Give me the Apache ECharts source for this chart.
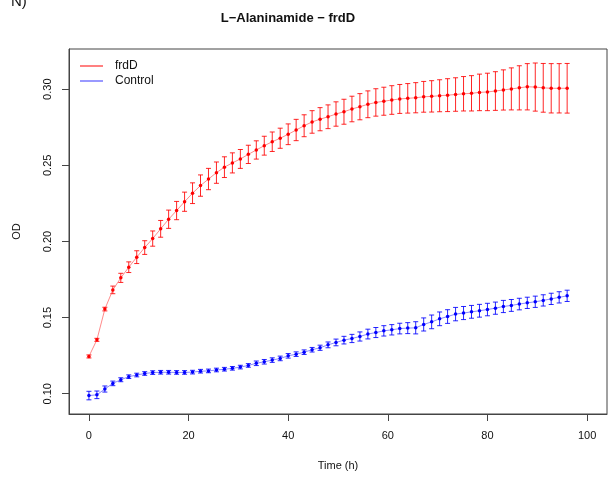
<!DOCTYPE html>
<html><head><meta charset="utf-8">
<script src="https://cdn.jsdelivr.net/npm/echarts@6/dist/echarts.min.js"></script>
<style>html,body{margin:0;padding:0;background:#fff}#c{width:612px;height:482px}</style>
</head><body><div id="c"></div>
<script>
const times = [0,1.6,3.2,4.8,6.4,8,9.6,11.2,12.8,14.4,16,17.6,19.2,20.8,22.4,24,25.6,27.2,28.8,30.4,32,33.6,35.2,36.8,38.4,40,41.6,43.2,44.8,46.4,48,49.6,51.2,52.8,54.4,56,57.6,59.2,60.8,62.4,64,65.6,67.2,68.8,70.4,72,73.6,75.2,76.8,78.4,80,81.6,83.2,84.8,86.4,88,89.6,91.2,92.8,94.4,96];
const frdD = [0.1245,0.1354,0.1556,0.1682,0.1761,0.1831,0.1897,0.1960,0.2019,0.2083,0.2146,0.2203,0.2261,0.2317,0.2367,0.2410,0.2452,0.2488,0.2516,0.2542,0.2572,0.2601,0.2629,0.2655,0.2678,0.2704,0.2732,0.2760,0.2785,0.2803,0.2819,0.2837,0.2852,0.2870,0.2885,0.2901,0.2913,0.2921,0.2929,0.2936,0.2940,0.2944,0.2950,0.2953,0.2957,0.2961,0.2965,0.2970,0.2973,0.2979,0.2982,0.2988,0.2995,0.3002,0.3009,0.3016,0.3014,0.3009,0.3006,0.3006,0.3006];
const frdDErr = [0.001,0.001,0.0012,0.0025,0.003,0.0035,0.0042,0.0045,0.005,0.0055,0.006,0.006,0.0063,0.0068,0.007,0.007,0.007,0.0068,0.0066,0.0062,0.006,0.006,0.0062,0.0064,0.0066,0.0068,0.007,0.0072,0.0074,0.0076,0.0078,0.008,0.0082,0.0084,0.0086,0.0088,0.009,0.0092,0.0094,0.0095,0.0097,0.0099,0.0101,0.0103,0.0105,0.0108,0.011,0.0113,0.0116,0.012,0.0123,0.0127,0.0132,0.0138,0.0145,0.0152,0.0158,0.016,0.0162,0.0162,0.0163];
const control = [0.0988,0.0993,0.1031,0.1068,0.1092,0.1112,0.1123,0.1133,0.1139,0.1141,0.1141,0.1140,0.1140,0.1142,0.1148,0.1150,0.1156,0.1161,0.1167,0.1175,0.1186,0.1200,0.1210,0.1221,0.1232,0.1249,0.1260,0.1273,0.1289,0.1302,0.1321,0.1337,0.1352,0.1363,0.1376,0.1392,0.1402,0.1413,0.1420,0.1428,0.1431,0.1433,0.1455,0.1472,0.1492,0.1507,0.1523,0.1530,0.1538,0.1545,0.1553,0.1562,0.1573,0.1580,0.1589,0.1597,0.1604,0.1613,0.1623,0.1633,0.1643];
const controlErr = [0.0028,0.0025,0.002,0.0015,0.0013,0.0012,0.0012,0.0012,0.0012,0.0012,0.0012,0.0012,0.0012,0.0012,0.0012,0.0012,0.0012,0.0012,0.0012,0.0012,0.0012,0.0015,0.0015,0.0015,0.0015,0.0015,0.0015,0.0015,0.0015,0.0017,0.0019,0.0022,0.0025,0.0027,0.003,0.0032,0.0033,0.0034,0.0034,0.0035,0.0036,0.004,0.0043,0.0045,0.0045,0.0045,0.0044,0.0043,0.0042,0.0042,0.0041,0.004,0.004,0.0039,0.0038,0.0037,0.0037,0.0037,0.0037,0.0037,0.0037];
const xTicks = [0,20,40,60,80,100];
const yTicks = [0.10,0.15,0.20,0.25,0.30];
const seriesNames = ['frdD','Control'];
const titleText = 'L\u2212Alaninamide \u2212 frdD';
const panelTag = 'N)';

const FONT = '"Liberation Sans", Arial, sans-serif';
const chart = echarts.init(document.getElementById('c'), null, {renderer:'canvas'});

function lineSeries(name, vals, lineColor, dotColor){
  return {type:'line', name, data: times.map((t,i)=>[t, vals[i]]),
    symbol:'circle', symbolSize:3.5, showSymbol:true,
    itemStyle:{color:dotColor}, lineStyle:{color:lineColor, width:1},
    z:4, silent:true, animation:false};
}
function errorSeries(name, vals, errs, color){
  return {type:'custom', name,
    data: times.map((t,i)=>[t, vals[i]-errs[i], vals[i]+errs[i]]),
    encode:{x:0, y:[1,2]},
    renderItem(params, api){
      const x = api.value(0);
      const lo = api.coord([x, api.value(1)]);
      const hi = api.coord([x, api.value(2)]);
      const w = 2.5;
      const st = {stroke:color, lineWidth:1};
      return {type:'group', children:[
        {type:'line', shape:{x1:lo[0], y1:lo[1], x2:hi[0], y2:hi[1]}, style:st},
        {type:'line', shape:{x1:lo[0]-w, y1:lo[1], x2:lo[0]+w, y2:lo[1]}, style:st},
        {type:'line', shape:{x1:hi[0]-w, y1:hi[1], x2:hi[0]+w, y2:hi[1]}, style:st}
      ]};
    }, z:3, silent:true, animation:false};
}

chart.setOption({
  animation:false,
  backgroundColor:'#fff',
  textStyle:{fontFamily:FONT},
  grid:{left:69, top:49, width:538, height:365, show:true, borderColor:'#444', borderWidth:1, backgroundColor:'transparent'},
  graphic:[
    {type:'text', style:{x:288, y:18, text:titleText, textAlign:'center', textVerticalAlign:'middle', font:'bold 13px '+FONT, fill:'#111'}},
    {type:'text', style:{x:11, y:9, text:panelTag, textAlign:'left', textVerticalAlign:'bottom', font:'15px '+FONT, fill:'#111'}}
  ],
  legend:{
    left:80, top:59, orient:'vertical', itemWidth:23, itemHeight:1, itemGap:1, padding:0,
    selectedMode:false,
    textStyle:{fontSize:12, color:'#111', lineHeight:14, padding:[0,0,0,7]},
    data:[
      {name:seriesNames[0], icon:'rect', itemStyle:{color:'#ff0000'}},
      {name:seriesNames[1], icon:'rect', itemStyle:{color:'#3333ff'}}
    ]
  },
  xAxis:{type:'value', min:-4, max:104,
    name:'Time (h)', nameLocation:'middle', nameGap:46,
    nameTextStyle:{fontSize:11, color:'#111'},
    splitLine:{show:false},
    axisLine:{show:true, onZero:false, lineStyle:{color:'#444'}},
    axisTick:{show:true, length:7, customValues:xTicks, lineStyle:{color:'#444'}},
    axisLabel:{customValues:xTicks, margin:16, fontSize:11, color:'#111'}
  },
  yAxis:{type:'value', min:0.0867, max:0.3264,
    name:'OD', nameLocation:'middle', nameGap:47, nameRotate:90,
    nameTextStyle:{fontSize:11, color:'#111'},
    splitLine:{show:false},
    axisLine:{show:true, onZero:false, lineStyle:{color:'#444'}},
    axisTick:{show:true, length:7, customValues:yTicks, lineStyle:{color:'#444'}},
    axisLabel:{customValues:yTicks, rotate:90, margin:16, fontSize:11, color:'#111',
      formatter:v=>Number(v).toFixed(2)}
  },
  series:[
    errorSeries(seriesNames[0], frdD, frdDErr, 'rgba(255,0,0,0.85)'),
    lineSeries(seriesNames[0], frdD, 'rgba(255,60,60,0.6)', '#ff0000'),
    errorSeries(seriesNames[1], control, controlErr, 'rgba(0,0,255,0.85)'),
    lineSeries(seriesNames[1], control, 'rgba(60,60,255,0.6)', '#0000ff')
  ]
});
</script></body></html>
